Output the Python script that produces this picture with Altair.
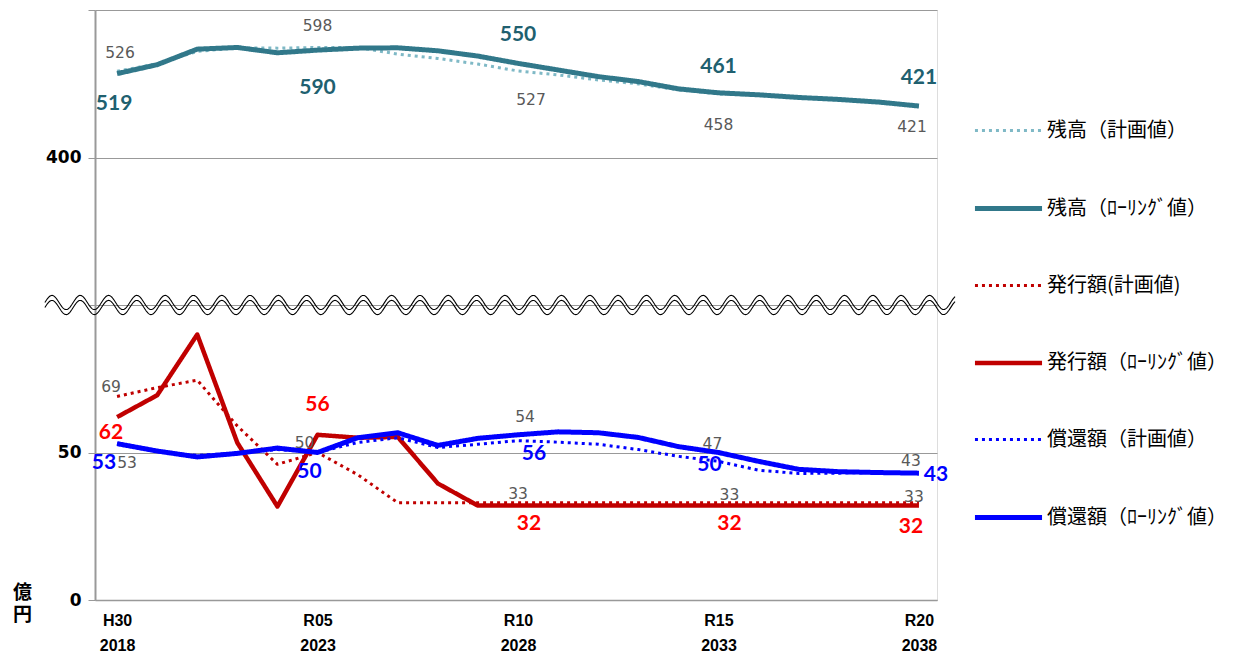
import altair as alt
import pandas as pd
import numpy as np

# ---------------- data ----------------
years = list(range(2018, 2039))

series_names = ["残高（計画値）", "残高（ﾛｰﾘﾝｸﾞ値）", "発行額(計画値)",
                "発行額（ﾛｰﾘﾝｸﾞ値）", "償還額（計画値）", "償還額（ﾛｰﾘﾝｸﾞ値）"]

zan_plan = [526, 549, 586, 597, 596, 598, 598, 578, 565, 548, 527,
            515, 500, 488, 470, 458, 453, 446, 440, 432, 421]
zan_roll = [519, 546, 593, 598, 582, 590, 596, 597, 588, 572, 550,
            530, 510, 495, 473, 461, 455, 447, 441, 433, 421]
hak_plan = [69, 72, 74.5, 59, 46, 50, 42.5, 33, 33, 33, 33,
            33, 33, 33, 33, 33, 33, 33, 33, 33, 33]
hak_roll = [62, 69.4, 90, 53.3, 31.7, 56, 55, 55.3, 39.5, 32, 32,
            32, 32, 32, 32, 32, 32, 32, 32, 32, 32]
sho_plan = [53, 50.3, 49, 49.8, 51, 50, 53.4, 55, 51.7, 52.8, 54,
            53.5, 52.8, 51, 48.7, 47, 44, 42.9, 43, 43.3, 43]
sho_roll = [53, 50.5, 48.5, 49.7, 51.5, 50, 55, 56.7, 52.4, 54.8, 56,
            57, 56.7, 55.1, 52, 50, 47, 44.3, 43.5, 43.2, 43]

all_series = [zan_plan, zan_roll, hak_plan, hak_roll, sho_plan, sho_roll]

x_tick_years = [2018, 2023, 2028, 2033, 2038]
x_tick_era = ["H30", "R05", "R10", "R15", "R20"]
y_tick_vals = [0, 50, 100, 150, 200]
y_tick_text = ["0", "50", "", "400", ""]

rows = []
for name, vals in zip(series_names, all_series):
    for yr, v in zip(years, vals):
        rows.append({"year": yr, "series": name, "value": v})
df = pd.DataFrame(rows)

# ---------------- style ----------------
line_colors = ["#7FB9C6", "#31788A", "#C00000", "#C00000", "#0000FF", "#0000FF"]
label_colors = ["#595959", "#20606F", "#595959", "#FF0000", "#595959", "#0000FF"]
dashes = [[3, 4], [1, 0], [3, 4], [1, 0], [3, 4], [1, 0]]
widths = [3, 5, 3, 4.5, 3, 5]

# (series index, year, dx, dy)
label_specs = [
    (0, 2018, 3, -18), (0, 2023, 0, -21), (0, 2028, 13, 29), (0, 2033, 0, 31), (0, 2038, -7, 21),
    (1, 2018, -3, 30), (1, 2023, 0, 38), (1, 2028, 0, -28), (1, 2033, 0, -26), (1, 2038, 0, -28),
    (2, 2018, -6, -9), (2, 2023, -13, -10), (2, 2028, 0, -9), (2, 2033, 11, -8), (2, 2038, -5, -6),
    (3, 2018, -6, 16), (3, 2023, 0, -30), (3, 2028, 11, 18), (3, 2033, 11, 18), (3, 2038, -8, 21),
    (4, 2018, 10, 19), (4, 2028, 7, -24), (4, 2033, -6, -17), (4, 2038, -8, -12),
    (5, 2018, -13, 19), (5, 2023, -8, 19), (5, 2028, 16, 19), (5, 2033, -9, 12), (5, 2038, 17, 2),
]

DISP = "datum.value > 200 ? 120.2 + 0.1122 * datum.value : datum.value"
X_SCALE = alt.Scale(domain=[2017.45, 2038.45], nice=False, zero=False)
Y_SCALE = alt.Scale(domain=[0, 200], nice=False, zero=False)

x_expr = "".join(
    f"datum.value == {y} ? ['{e}', '{y}'] : " for y, e in zip(x_tick_years, x_tick_era)
) + "''"
y_expr = "".join(
    f"datum.value == {v} ? '{t}' : " for v, t in zip(y_tick_vals, y_tick_text)
) + "''"

X_AXIS = alt.Axis(
    values=x_tick_years, labelExpr=x_expr, grid=False, ticks=False,
    domain=True, domainColor="#999999", domainWidth=1.5,
    labelFont="Liberation Sans", labelFontWeight="bold", labelFontSize=16,
    labelLineHeight=25, labelPadding=12, labelColor="#000000", title=None,
)
Y_AXIS = alt.Axis(
    values=y_tick_vals, labelExpr=y_expr, grid=True, gridColor="#999999",
    gridWidth=1.2, domain=True, domainColor="#999999", domainWidth=2,
    ticks=True, tickColor="#999999", tickSize=7,
    labelFont="DejaVu Sans", labelFontWeight="bold", labelFontSize=17,
    labelPadding=7, labelColor="#000000",
    title=["億", "円"], titleAngle=0, titleX=-73, titleY=573,
    titleAlign="center", titleBaseline="top", titleFont="Noto Sans CJK JP",
    titleFontSize=19, titleFontWeight="bold", titleLineHeight=22,
    titleColor="#000000",
)

legend = alt.Legend(
    title=None, orient="none", legendX=877, legendY=85, direction="vertical",
    symbolType="stroke", symbolSize=4500, labelOffset=2, rowPadding=31,
    labelFont="Noto Sans CJK JP", labelFontSize=20, labelColor="#000000",
    padding=0, labelLimit=400,
)

lines = alt.Chart(df).transform_calculate(disp=DISP).mark_line(
    strokeCap="butt", strokeJoin="round"
).encode(
    x=alt.X("year:Q", scale=X_SCALE, axis=X_AXIS),
    y=alt.Y("disp:Q", scale=Y_SCALE, axis=Y_AXIS),
    color=alt.Color("series:N", scale=alt.Scale(domain=series_names, range=line_colors), legend=legend),
    strokeDash=alt.StrokeDash("series:N", scale=alt.Scale(domain=series_names, range=dashes), legend=legend),
    strokeWidth=alt.StrokeWidth("series:N", scale=alt.Scale(type="ordinal", domain=series_names, range=widths), legend=legend),
    order=alt.Order("year:Q"),
)

layers = [lines]
for si, yr, dx, dy in label_specs:
    bold = si % 2 == 1
    t = alt.Chart(df).transform_filter(
        (alt.datum.series == series_names[si]) & (alt.datum.year == yr)
    ).transform_calculate(disp=DISP).mark_text(
        dx=dx, dy=dy, align="center", baseline="middle",
        font="Lato" if bold else "DejaVu Sans",
        fontWeight="bold" if bold else "normal",
        fontSize=21 if bold else 15.5,
        color=label_colors[si],
    ).encode(
        x=alt.X("year:Q", scale=X_SCALE, axis=X_AXIS),
        y=alt.Y("disp:Q", scale=Y_SCALE, axis=Y_AXIS),
        text=alt.Text("value:Q", format=".0f"),
    )
    layers.append(t)

# axis-break wave decoration (two parallel sine lines)
wx = np.linspace(2016.2, 2038.9, 1400)
wave_rows = []
for k, off in enumerate([0.85, -0.85]):
    for xv in wx:
        wave_rows.append({"year": float(xv), "disp": 100 + off + 2.4 * np.sin(2 * np.pi * (xv - 2016.2) / 0.706), "k": k})
wave_df = pd.DataFrame(wave_rows)
wave = alt.Chart(wave_df).mark_line(color="#000000", strokeWidth=1.1).encode(
    x=alt.X("year:Q", scale=X_SCALE, axis=X_AXIS),
    y=alt.Y("disp:Q", scale=Y_SCALE, axis=Y_AXIS),
    detail="k:N",
    order="year:Q",
)
layers.append(wave)

chart = alt.layer(*layers).properties(
    width=842, height=590,
    autosize=alt.AutoSizeParams(type="none"),
    padding={"left": 95, "top": 10, "right": 297, "bottom": 57},
).configure_view(stroke="#d9d9d9", strokeWidth=1).configure(background="white")

chart.save("out.html", embed_options={"renderer": "svg", "actions": False})
